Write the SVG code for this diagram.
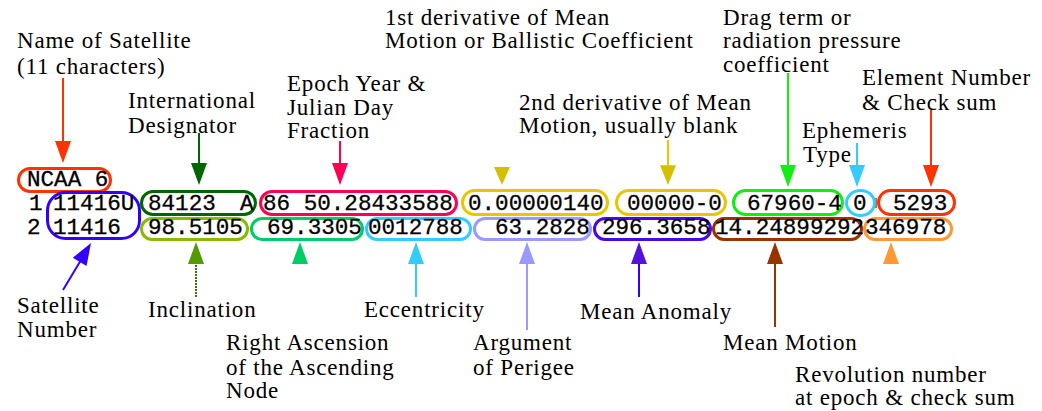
<svg xmlns="http://www.w3.org/2000/svg" width="1042" height="411" viewBox="0 0 1042 411">
<style>
.lbl{font-family:"Liberation Serif","Times New Roman",serif;font-size:23px;letter-spacing:0.8px;fill:#000}
.mono{font-family:"Liberation Mono","Courier New",monospace;font-size:22.6px;fill:#000;stroke:#000;stroke-width:0.3}
.box{fill:none;stroke-width:3}
.ln{fill:none;stroke-width:2}
</style>
<defs>
<path id="ah" d="M-8,-22 L8,-22 L0,0 Z"/>
</defs>
<rect width="1042" height="411" fill="#fff"/>

<g id="connectors">
<line class="ln" x1="63" y1="78" x2="63" y2="145" stroke="#ff3300"/>
<use href="#ah" transform="translate(63,163)" fill="#ff3300"/>
<line class="ln" x1="199" y1="133" x2="199" y2="167" stroke="#006600"/>
<use href="#ah" transform="translate(199,185)" fill="#006600"/>
<line class="ln" x1="340" y1="141" x2="340" y2="167" stroke="#ff0055"/>
<use href="#ah" transform="translate(340,185)" fill="#ff0055"/>
<use href="#ah" transform="translate(502,185) scale(1,0.82)" fill="#d4c000"/>
<line class="ln" x1="668" y1="140" x2="668" y2="168" stroke="#e6c700"/>
<use href="#ah" transform="translate(668,185) scale(1,0.9)" fill="#d4c000"/>
<line class="ln" x1="788" y1="73" x2="788" y2="168" stroke="#11ee11"/>
<use href="#ah" transform="translate(788,187)" fill="#11ee11"/>
<line class="ln" x1="857" y1="143" x2="857" y2="168" stroke="#33ccff"/>
<use href="#ah" transform="translate(857,187)" fill="#33ccff"/>
<line class="ln" x1="931" y1="110" x2="931" y2="168" stroke="#ff3300"/>
<use href="#ah" transform="translate(931,187)" fill="#ff3300"/>

<line class="ln" x1="63" y1="290" x2="84" y2="255" stroke="#3300ff"/>
<use href="#ah" transform="translate(91,243) rotate(-149)" fill="#3300ff"/>
<line class="ln" x1="196" y1="262" x2="196" y2="297" stroke="#337700" stroke-dasharray="2 1"/>
<use href="#ah" transform="translate(196,242) rotate(180)" fill="#559900"/>
<use href="#ah" transform="translate(300,242) rotate(180)" fill="#00cc66"/>
<line class="ln" x1="416" y1="260" x2="416" y2="297" stroke="#33ccff"/>
<use href="#ah" transform="translate(416,242) rotate(180)" fill="#33ccff"/>
<line class="ln" x1="527" y1="260" x2="527" y2="330" stroke="#9999ff"/>
<use href="#ah" transform="translate(527,242) rotate(180)" fill="#9999ff"/>
<line class="ln" x1="639" y1="260" x2="639" y2="297" stroke="#3300ff"/>
<use href="#ah" transform="translate(639,242) rotate(180)" fill="#5510dd"/>
<line class="ln" x1="775" y1="260" x2="775" y2="327" stroke="#993300"/>
<use href="#ah" transform="translate(775,242) rotate(180)" fill="#993300"/>
<use href="#ah" transform="translate(891,242) rotate(180)" fill="#ff9933"/>
<rect x="873" y="198" width="4" height="10" fill="#997766"/>
</g>

<g id="name-box"><rect class="box" x="18.5" y="168.5" width="92" height="23" rx="11.5" stroke="#ff3300"/><text class="mono" x="27" y="186">NCAA 6</text></g>
<g id="line-numbers"><text class="mono" x="29" y="210">1</text><text class="mono" x="27" y="234">2</text></g>
<g id="satnum-box"><rect class="box" x="47.5" y="192.5" width="92" height="46" rx="18" stroke="#3300ff"/><text class="mono" x="53" y="210">11416U</text><text class="mono" x="53" y="234">11416</text></g>
<g id="intl-box"><rect class="box" x="141.5" y="191.5" width="114" height="23" rx="11.5" stroke="#006600"/><text class="mono" x="148" y="210">84123</text><text class="mono" x="240" y="210">A</text></g>
<g id="epoch-box"><rect class="box" x="260.5" y="191.5" width="196" height="23" rx="11.5" stroke="#ff0055"/><text class="mono" x="263" y="210">86 50.28433588</text></g>
<g id="deriv1-box"><rect class="box" x="462.5" y="190.5" width="145" height="24" rx="12" stroke="#e6c700"/><text class="mono" x="468" y="210">0.00000140</text></g>
<g id="deriv2-box"><rect class="box" x="616.5" y="190.5" width="109" height="24" rx="12" stroke="#e6c700"/><text class="mono" x="627" y="210">00000-0</text></g>
<g id="drag-box"><rect class="box" x="733.5" y="190.5" width="109" height="24" rx="12" stroke="#11ee11"/><text class="mono" x="747" y="210">67960-4</text></g>
<g id="ephem-box"><ellipse class="box" cx="860.5" cy="203" rx="14" ry="12.5" stroke="#33ccff"/><text class="mono" x="853" y="210">0</text></g>
<g id="element-box"><rect class="box" x="878.5" y="190.5" width="76" height="24" rx="12" stroke="#ff3300"/><text class="mono" x="893" y="210">5293</text></g>

<g id="incl-box"><rect class="box" x="141.5" y="218.5" width="106" height="21" rx="10.5" stroke="#88bb00"/><text class="mono" x="148" y="234">98.5105</text></g>
<g id="raan-box"><rect class="box" x="251.5" y="218.5" width="111" height="21" rx="10.5" stroke="#00cc66"/><text class="mono" x="267" y="234">69.3305</text></g>
<g id="ecc-box"><rect class="box" x="366.5" y="218.5" width="104" height="21" rx="10.5" stroke="#33ccff"/><text class="mono" x="368" y="234">0012788</text></g>
<g id="argp-box"><rect class="box" x="474.5" y="218.5" width="116" height="21" rx="10.5" stroke="#9999ff"/><text class="mono" x="495" y="234">63.2828</text></g>
<g id="ma-box"><rect class="box" x="594.5" y="218.5" width="116" height="21" rx="10.5" stroke="#4a08e8"/><text class="mono" x="602" y="234">296.3658</text></g>
<g id="mm-box"><rect class="box" x="713.5" y="218.5" width="148" height="21" rx="10.5" stroke="#993300"/><text class="mono" x="715" y="234">14.24899292</text></g>
<g id="rev-box"><rect class="box" x="864.5" y="218.5" width="87" height="21" rx="10.5" stroke="#ff9933"/><text class="mono" x="865" y="234">346978</text></g>

<g id="label-name"><text class="lbl" x="17" y="48">Name of Satellite</text><text class="lbl" x="17" y="74">(11 characters)</text></g>
<g id="label-intl"><text class="lbl" x="128" y="108">International</text><text class="lbl" x="128" y="133">Designator</text></g>
<g id="label-epoch"><text class="lbl" x="287" y="91">Epoch Year &amp;</text><text class="lbl" x="287" y="115">Julian Day</text><text class="lbl" x="287" y="138">Fraction</text></g>
<g id="label-deriv1"><text class="lbl" x="385" y="25">1st derivative of Mean</text><text class="lbl" x="385" y="48">Motion or Ballistic Coefficient</text></g>
<g id="label-deriv2"><text class="lbl" x="519" y="110">2nd derivative of Mean</text><text class="lbl" x="519" y="133">Motion, usually blank</text></g>
<g id="label-drag"><text class="lbl" x="723" y="25">Drag term or</text><text class="lbl" x="723" y="48">radiation pressure</text><text class="lbl" x="723" y="72">coefficient</text></g>
<g id="label-element"><text class="lbl" x="862" y="85">Element Number</text><text class="lbl" x="862" y="110">&amp; Check sum</text></g>
<g id="label-ephem"><text class="lbl" x="802" y="138">Ephemeris</text><text class="lbl" x="803" y="162">Type</text></g>
<g id="label-satnum"><text class="lbl" x="17" y="313">Satellite</text><text class="lbl" x="17" y="337">Number</text></g>
<g id="label-incl"><text class="lbl" x="148" y="317">Inclination</text></g>
<g id="label-raan"><text class="lbl" x="226" y="350">Right Ascension</text><text class="lbl" x="226" y="375">of the Ascending</text><text class="lbl" x="226" y="398">Node</text></g>
<g id="label-ecc"><text class="lbl" x="364" y="317">Eccentricity</text></g>
<g id="label-argp"><text class="lbl" x="473" y="350">Argument</text><text class="lbl" x="473" y="375">of Perigee</text></g>
<g id="label-ma"><text class="lbl" x="580" y="319">Mean Anomaly</text></g>
<g id="label-mm"><text class="lbl" x="723" y="350">Mean Motion</text></g>
<g id="label-rev"><text class="lbl" x="795" y="382">Revolution number</text><text class="lbl" x="795" y="405">at epoch &amp; check sum</text></g>
</svg>
